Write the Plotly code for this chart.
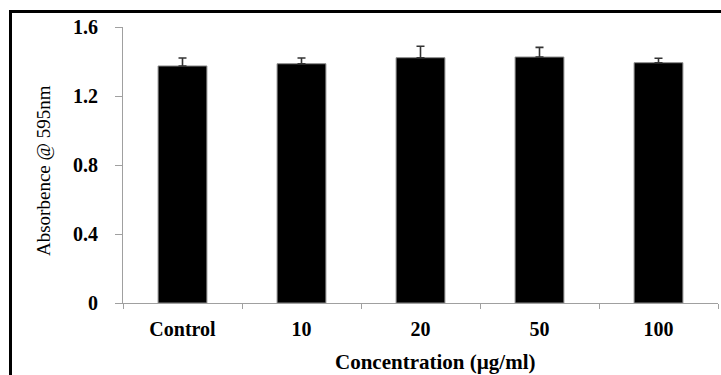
import plotly.graph_objects as go

categories = ["Control", "10", "20", "50", "100"]
absorbance = [1.374, 1.387, 1.422, 1.426, 1.393]
error_plus = [0.046, 0.033, 0.066, 0.056, 0.026]
y_tick_vals = [0, 0.4, 0.8, 1.2, 1.6]
y_tick_text = ["0", "0.4", "0.8", "1.2", "1.6"]

serif = "Liberation Serif, Times New Roman, serif"

fig = go.Figure()
fig.add_trace(go.Bar(
    x=categories,
    y=absorbance,
    marker=dict(color="black", line=dict(color="#8a8a8a", width=1)),
    error_y=dict(type="data", array=error_plus, symmetric=False,
                 arrayminus=[0] * len(error_plus),
                 color="#333333", thickness=1.6, width=4),
))

L, R, T, B = 123, 3, 27, 72
W, H = 721, 375
pw, ph = W - L - R, H - T - B

def px_x(x):
    return (x - L) / pw

def px_y(y):
    return (H - B - y) / ph

fig.update_layout(
    width=W, height=H,
    margin=dict(l=L, r=R, t=T, b=B, pad=0, autoexpand=False),
    plot_bgcolor="white", paper_bgcolor="white",
    bargap=0.59,
    showlegend=False,
    font=dict(family=serif, color="black"),
    xaxis=dict(
        type="category",
        showline=True, linecolor="#a0a0a0", linewidth=1,
        ticks="outside", tickson="boundaries", ticklen=5, tickcolor="#a0a0a0",
        tickfont=dict(family=serif, size=20, color="black", weight="bold"),
        ticklabelstandoff=8,
        showgrid=False, zeroline=False,
    ),
    yaxis=dict(
        range=[0, 1.6],
        tickvals=y_tick_vals, ticktext=y_tick_text,
        showline=True, linecolor="#a0a0a0", linewidth=1,
        ticks="outside", ticklen=7, tickcolor="#a0a0a0",
        tickfont=dict(family=serif, size=20, color="black", weight="bold"),
        ticklabelstandoff=13,
        showgrid=False, zeroline=False,
    ),
    annotations=[
        dict(text="Absorbence @ 595nm", textangle=-90, showarrow=False,
             xref="paper", yref="paper", x=px_x(43), y=px_y(171),
             xanchor="center", yanchor="middle",
             font=dict(family=serif, size=19, color="black")),
        dict(text="<b>Concentration (µg/ml)</b>", showarrow=False,
             xref="paper", yref="paper", x=px_x(435), y=px_y(362),
             xanchor="center", yanchor="middle",
             font=dict(family=serif, size=21, color="black")),
    ],
    shapes=[
        dict(type="line", xref="paper", yref="paper",
             x0=px_x(10.5), x1=px_x(730), y0=px_y(11.5), y1=px_y(11.5),
             line=dict(color="black", width=3)),
        dict(type="line", xref="paper", yref="paper",
             x0=px_x(10.5), x1=px_x(10.5), y0=px_y(10), y1=px_y(385),
             line=dict(color="black", width=3)),
    ],
)

fig.write_html("out.html", config={"displayModeBar": False},
               post_script="document.body.style.margin='0';")
